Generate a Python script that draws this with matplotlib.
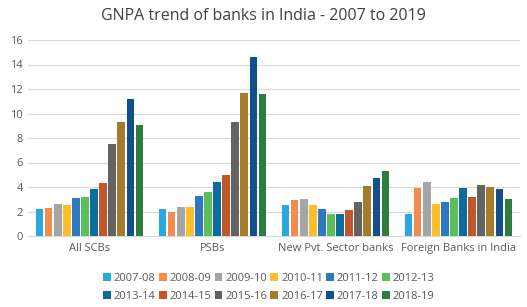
import matplotlib.pyplot as plt
import numpy as np

plt.rcParams['font.family'] = ['Open Sans', 'DejaVu Sans']

# GNPA ratio (%) by bank group and year
groups = ['All SCBs', 'PSBs', 'New Pvt. Sector banks', 'Foreign Banks in India']
years = ['2007-08', '2008-09', '2009-10', '2010-11', '2011-12', '2012-13',
         '2013-14', '2014-15', '2015-16', '2016-17', '2017-18', '2018-19']
all_scbs = [2.2, 2.3, 2.6, 2.5, 3.1, 3.2, 3.8, 4.3, 7.5, 9.3, 11.2, 9.1]
psbs = [2.2, 2.0, 2.4, 2.4, 3.3, 3.6, 4.4, 5.0, 9.3, 11.7, 14.6, 11.6]
new_pvt = [2.5, 2.9, 3.0, 2.5, 2.2, 1.8, 1.8, 2.1, 2.8, 4.1, 4.7, 5.3]
foreign = [1.8, 3.9, 4.4, 2.6, 2.8, 3.1, 3.9, 3.2, 4.2, 4.0, 3.8, 3.0]

colors = ['#29A8E0', '#F58B4C', '#A5A5A5', '#FDBE2A', '#2E78C0', '#5CBF5C',
          '#0B6D9C', '#C0582A', '#636363', '#A67C2A', '#11508A', '#2E7D3E']

data = np.array([all_scbs, psbs, new_pvt, foreign])

fig = plt.figure(figsize=(5.27, 3.07), dpi=100)
ax = fig.add_axes([28/527, 1-236/307, 492/527, 196/307])

x = np.arange(len(groups))
slot = 0.074
bars = []
for i, yr in enumerate(years):
    b = ax.bar(x + (i - 5.5) * slot, data[:, i], width=slot * 0.85,
               color=colors[i], label=yr, zorder=3)
    bars.append(b)

ax.set_xlim(-0.5, 3.5)
ax.set_ylim(0, 16)
ax.set_yticks(range(0, 17, 2))
ax.set_xticks(x)
ax.set_xticklabels(groups)
ax.yaxis.grid(True, color='#D9D9D9', linewidth=0.8, zorder=0)
for s in ['top', 'right', 'left']:
    ax.spines[s].set_visible(False)
ax.spines['bottom'].set_color('#D9D9D9')
ax.tick_params(axis='both', length=0, labelsize=8, colors='#595959')
ax.tick_params(axis='x', pad=5)

fig.suptitle('GNPA trend of banks in India - 2007 to 2019', y=0.975,
             fontsize=11.5, color='#404040')

# legend filled row by row: reorder for matplotlib's column-major fill
order = [r * 6 + c for c in range(6) for r in range(2)]
fig.legend([bars[k] for k in order], [years[k] for k in order],
           loc='lower center', bbox_to_anchor=(0.51, -0.015), ncol=6,
           frameon=False, fontsize=8, handlelength=0.7, handleheight=0.7,
           handletextpad=0.25, columnspacing=0.3, labelspacing=0.6,
           labelcolor='#595959')

fig.savefig('out.png', dpi=100)
